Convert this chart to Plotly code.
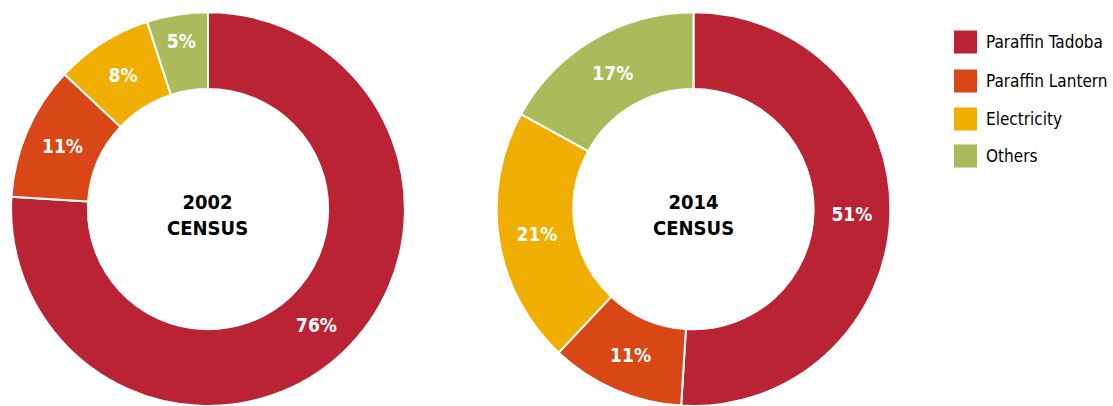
import plotly.graph_objects as go

categories = ["Paraffin Tadoba", "Paraffin Lantern", "Electricity", "Others"]
values_2002 = [76, 11, 8, 5]
values_2014 = [51, 11, 21, 17]
center_labels = ["2002<br>CENSUS", "2014<br>CENSUS"]
colors = ["#B92334", "#D84715", "#F0AE00", "#ABBB5C"]

W, H = 1113, 406
FONT = "'DejaVu Sans Condensed', 'Liberation Sans Narrow', sans-serif"

fig = go.Figure()
domains = [
    dict(x=[10 / W, 406 / W], y=[0.0, 0.97]),
    dict(x=[495 / W, 892 / W], y=[0.0, 0.97]),
]
for vals, dom in zip([values_2002, values_2014], domains):
    fig.add_trace(go.Pie(
        labels=categories,
        values=vals,
        hole=0.61,
        sort=False,
        direction="clockwise",
        rotation=0,
        domain=dom,
        marker=dict(colors=colors, line=dict(color="white", width=2)),
        texttemplate="%{value}%",
        textposition="inside",
        insidetextorientation="horizontal",
        textfont=dict(family=FONT, size=19, color="white", weight="bold"),
        showlegend=False,
        hoverinfo="label+percent",
    ))

annotations = []
for lab, dom in zip(center_labels, domains):
    annotations.append(dict(
        text=f"<b>{lab}</b>", x=(dom["x"][0] + dom["x"][1]) / 2,
        y=(dom["y"][0] + dom["y"][1]) / 2, yshift=-6, xref="paper", yref="paper",
        showarrow=False, font=dict(family=FONT, size=20, color="black"),
        xanchor="center", yanchor="middle",
    ))

# custom legend
shapes = []
leg_x0 = 954 / W
leg_sq_w = 23 / W
row_y = [42, 81, 119, 156]
for cat, col, ry in zip(categories, colors, row_y):
    y_c = 1 - ry / H
    shapes.append(dict(type="rect", xref="paper", yref="paper",
                       x0=leg_x0, x1=leg_x0 + leg_sq_w,
                       y0=y_c - 11.5 / H, y1=y_c + 11.5 / H,
                       fillcolor=col, line=dict(width=0)))
    annotations.append(dict(
        text=cat, x=984 / W, y=y_c, xref="paper", yref="paper",
        showarrow=False, xanchor="left", yanchor="middle",
        font=dict(family=FONT, size=17, color="#000000"),
    ))

fig.update_layout(
    width=W, height=H,
    margin=dict(l=0, r=0, t=0, b=0),
    paper_bgcolor="white",
    plot_bgcolor="white",
    annotations=annotations,
    shapes=shapes,
)

fig.write_html("out.html", config={"displayModeBar": False},
               post_script="document.body.style.margin='0';")
